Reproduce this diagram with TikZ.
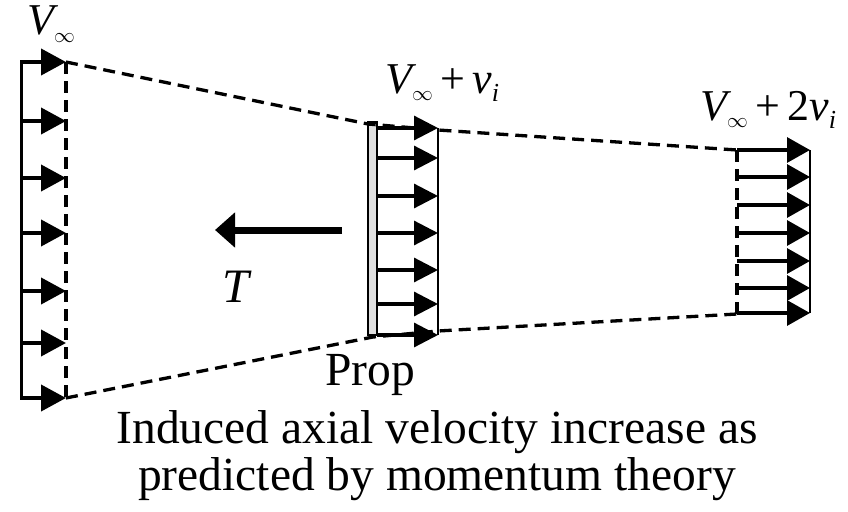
\documentclass[tikz,border=0pt]{standalone}
\usepackage{fontspec}
\setmainfont{Liberation Serif}
\usetikzlibrary{arrows.meta}
\newcommand{\myVinf}{{\itshape V}\raisebox{-7.5pt}{\fontsize{21}{21}\selectfont$\infty$}}
\begin{document}
\begin{tikzpicture}[x=1pt,y=-1pt,
  velL/.style={line width=4pt,-{Triangle[length=25pt,width=26pt]}},
  velM/.style={line width=3.2pt,-{Triangle[length=24pt,width=24pt]}},
  velR/.style={line width=3.2pt,-{Triangle[length=23pt,width=25pt]}},
  dashline/.style={line width=3.3pt,dash pattern=on 12pt off 7pt},
  lbl/.style={inner sep=0pt,anchor=base west,font=\fontsize{44}{46}\selectfont},
  captext/.style={inner sep=0pt,anchor=base,font=\fontsize{47.5}{49}\selectfont}]
\useasboundingbox (0,0) rectangle (848,511);
% left station
\draw[line width=3pt] (21,60.5) -- (21,399.5);
\foreach \yy/\n in {62/1,121/2,178/3,233/4,291/5,343/6,398/7}{
  \coordinate (la\n) at (21,\yy);
  \coordinate (lb\n) at (66,\yy);
  \draw[velL] (la\n) -- (lb\n);
}
\draw[dashline] (lb1) -- (lb7);
% propeller
\node[draw,line width=2.2pt,fill=gray!25,minimum width=9pt,minimum height=213pt,inner sep=0pt] (prop) at (372.5,228.5) {};
\foreach \yy/\n in {128/1,158/2,196/3,233/4,270/5,304/6,335/7}{
  \coordinate (ma\n) at (377,\yy);
  \coordinate (mb\n) at (438,\yy);
  \draw[velM] (ma\n) -- (mb\n);
}
\draw[line width=2pt] (mb1) -- (mb7);
% far wake
\foreach \yy/\n in {150/1,177/2,205/3,233/4,261/5,288/6,313/7}{
  \coordinate (ra\n) at (737,\yy);
  \coordinate (rb\n) at (810,\yy);
  \draw[velR] (ra\n) -- (rb\n);
}
\draw[line width=2pt] (rb1) -- (rb7);
\draw[dashline] (ra1) -- (737,315);
% stream tube
\coordinate (pt) at (368,124);
\coordinate (pb) at (373,337);
\draw[dashline] (lb1) -- (pt) -- (438,130) -- (ra1);
\draw[dashline] (lb7) -- (pb) -- (438,331) -- (737,314);
% thrust
\coordinate (ts) at (342,230);
\coordinate (te) at (215,230);
\draw[line width=7pt,-{Triangle[length=20pt,width=34pt]}] (ts) -- (te);
% labels
\node[lbl] (vinf) at (27,35) {\myVinf};
\node[lbl] (vprop) at (385,93) {\myVinf\,+\,{\itshape v}\raisebox{-8pt}{\fontsize{26}{26}\selectfont\itshape i}};
\node[lbl] (vwake) at (700,120) {\myVinf\,+\,2{\itshape v}\raisebox{-8pt}{\fontsize{26}{26}\selectfont\itshape i}};
\node[lbl,font=\fontsize{48}{49}\selectfont] (T) at (222,302) {\itshape T};
\node[captext] (proplbl) at (370,385) {Prop};
\node[captext] (cap1) at (437,443) {Induced axial velocity increase as};
\node[captext] (cap2) at (437,490) {predicted by momentum theory};
\end{tikzpicture}
\end{document}
